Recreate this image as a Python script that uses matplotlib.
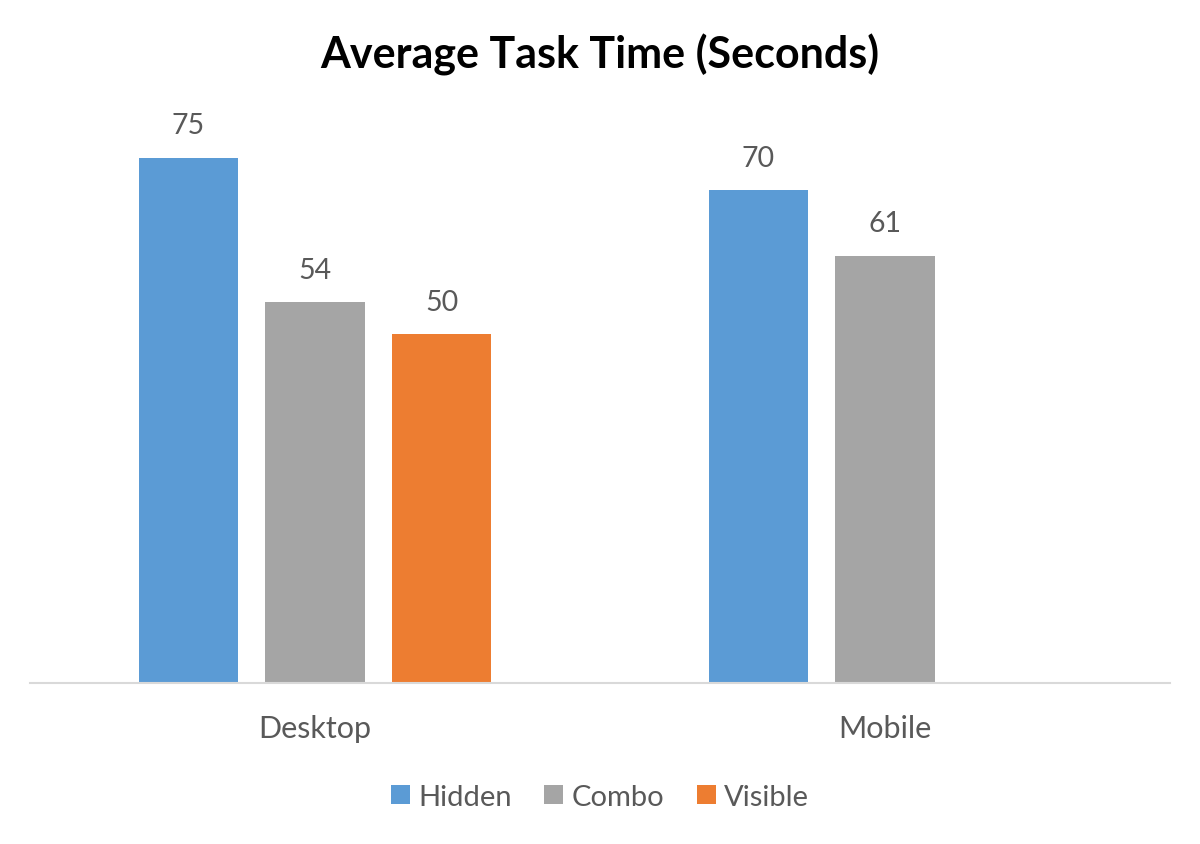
import matplotlib.pyplot as plt
import numpy as np

plt.rcParams['font.family'] = ['Lato', 'DejaVu Sans']

categories = ['Desktop', 'Mobile']
series = ['Hidden', 'Combo', 'Visible']
hidden = [75, 70.4]
combo = [54.4, 61]
visible = [49.8, np.nan]
colors = ['#5B9BD5', '#A5A5A5', '#ED7D31']
text_color = '#595959'

fig = plt.figure(figsize=(12, 8.45), dpi=100)
ax = fig.add_axes([0.025, 0.1905, 0.95, 0.6627])

x = np.arange(len(categories))
pitch = 0.222
width = 0.174
for i, (name, vals, c) in enumerate(zip(series, [hidden, combo, visible], colors)):
    pos = x + (i - 1) * pitch
    ax.bar(pos, vals, width, color=c, label=name)
    for xp, v in zip(pos, vals):
        if not np.isnan(v):
            ax.text(xp, v + 2.8, f'{v:.0f}', ha='center', va='bottom',
                    fontsize=20.5, color=text_color)

ax.set_xlim(-0.5, 1.5)
ax.set_ylim(0, 80)
ax.set_yticks([])
ax.set_xticks(x)
ax.set_xticklabels(categories, fontsize=22, color=text_color)
ax.tick_params(axis='x', length=0, pad=22)
for s in ['top', 'left', 'right']:
    ax.spines[s].set_visible(False)
ax.spines['bottom'].set_color('#D9D9D9')
ax.spines['bottom'].set_linewidth(1.5)

fig.suptitle('Average Task Time (Seconds)', y=0.96, fontsize=31,
             fontweight='bold', color='black')

leg = fig.legend(loc='center', bbox_to_anchor=(0.5, 0.056), ncol=3,
                 frameon=False, fontsize=21, handlelength=0.65, handleheight=0.65,
                 handletextpad=0.3, columnspacing=1.1)
for t in leg.get_texts():
    t.set_color(text_color)

fig.savefig('out.png', dpi=100)
